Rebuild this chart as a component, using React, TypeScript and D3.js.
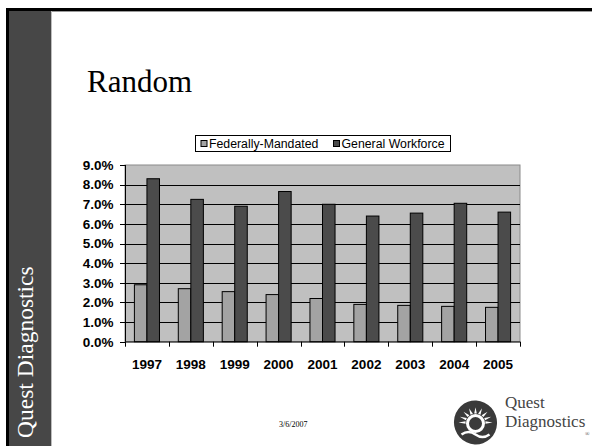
import React from "react";
import * as d3 from "d3";

const years = ["1997", "1998", "1999", "2000", "2001", "2002", "2003", "2004", "2005"];
const seriesNames = ["Federally-Mandated", "General Workforce"];
const federallyMandated = [2.9, 2.7, 2.55, 2.4, 2.2, 1.9, 1.85, 1.8, 1.75];
const generalWorkforce = [8.3, 7.25, 6.9, 7.65, 7.0, 6.4, 6.55, 7.05, 6.6];
const yTicks = [0, 1, 2, 3, 4, 5, 6, 7, 8, 9];
const seriesColors = ["#a3a3a3", "#4b4b4b"];

const W = 592;
const H = 446;
const plot = { left: 125, right: 520, top: 165, bottom: 341.7 };

export default function App() {
  const x0 = d3.scaleBand<string>().domain(years).range([plot.left, plot.right]).padding(0);
  const x1 = d3
    .scaleBand<string>()
    .domain(seriesNames)
    .range([0, x0.bandwidth()])
    .paddingInner(0)
    .paddingOuter(0.75);
  const y = d3.scaleLinear().domain([0, 9]).range([plot.bottom, plot.top]);
  const values = [federallyMandated, generalWorkforce];
  const arial = "Arial, 'Liberation Sans', Helvetica, sans-serif";
  const times = "'Times New Roman', 'Liberation Serif', serif";

  const boundaries = [...years.map((yr) => x0(yr) as number), plot.right];

  // logo sun rays
  const cx = 475.5, cy = 422.5;
  const rays = d3.range(9).map((i) => {
    const a = Math.PI + (i / 8) * Math.PI; // top half
    const r1 = 10, r2 = 17, da = 0.13;
    const p = [
      [cx + r1 * Math.cos(a - da), cy + r1 * Math.sin(a - da) * 0.9],
      [cx + r2 * Math.cos(a), cy + r2 * Math.sin(a) * 0.9],
      [cx + r1 * Math.cos(a + da), cy + r1 * Math.sin(a + da) * 0.9],
    ];
    return p.map((q) => q.join(",")).join(" ");
  });

  return (
    <svg
      width={W}
      height={H}
      style={{ position: "fixed", left: 0, top: 0, background: "#fff" }}
      xmlns="http://www.w3.org/2000/svg"
    >
      <rect x={0} y={0} width={W} height={H} fill="#fff" />
      {/* slide frame */}
      <rect x={9} y={11} width={42} height={H - 11} fill="#474747" />
      <rect x={51} y={11} width={1} height={H - 11} fill="#bdbdbd" />
      <rect x={6} y={8} width={W - 6} height={3} fill="#000" />
      <rect x={52} y={11} width={W - 52} height={1} fill="#9a9a9a" />
      <rect x={6} y={8} width={3} height={H - 8} fill="#000" />
      <text
        transform="translate(32.5,438) rotate(-90)"
        fontFamily={times}
        fontSize={23.5}
        fill="#ffffff"
      >
        Quest Diagnostics
      </text>

      {/* title */}
      <text x={87} y={92} fontFamily={times} fontSize={31} fill="#000">
        Random
      </text>

      {/* legend */}
      <rect x={195.5} y={135.5} width={255} height={16} fill="#fff" stroke="#000" strokeWidth={1} />
      {seriesNames.map((s, i) => {
        const lx = i === 0 ? 200.5 : 333;
        return (
          <g key={s}>
            <rect x={lx + 0.5} y={140.5} width={6} height={6} fill={seriesColors[i]} stroke="#000" strokeWidth={1} />
            <text x={lx + 8.5} y={148} fontFamily={arial} fontSize={12.3} fill="#000">
              {s}
            </text>
          </g>
        );
      })}

      {/* plot area */}
      <rect
        x={plot.left}
        y={plot.top}
        width={plot.right - plot.left}
        height={plot.bottom - plot.top}
        fill="#c0c0c0"
        stroke="#8a8a8a"
        strokeWidth={1}
      />
      {yTicks
        .filter((t) => t > 0 && t < 9)
        .map((t) => (
          <line
            key={t}
            x1={plot.left}
            x2={plot.right}
            y1={Math.round(y(t)) + 0.5}
            y2={Math.round(y(t)) + 0.5}
            stroke="#000"
            strokeWidth={1}
          />
        ))}

      {/* bars */}
      {years.map((yr, i) => (
        <g key={yr}>
          {seriesNames.map((s, j) => {
            const v = values[j][i];
            const bx = (x0(yr) as number) + (x1(s) as number);
            return (
              <rect
                key={s}
                x={bx}
                y={y(v)}
                width={x1.bandwidth()}
                height={plot.bottom - y(v)}
                fill={seriesColors[j]}
                stroke="#000"
                strokeWidth={1}
              />
            );
          })}
        </g>
      ))}

      {/* axes */}
      <line x1={plot.left + 0.5} x2={plot.left + 0.5} y1={plot.top} y2={plot.bottom} stroke="#000" />
      <line x1={plot.left} x2={plot.right} y1={plot.bottom + 0.3} y2={plot.bottom + 0.3} stroke="#000" />
      {yTicks.map((t) => (
        <g key={t}>
          <line x1={plot.left - 5} x2={plot.left} y1={Math.round(y(t)) + 0.5} y2={Math.round(y(t)) + 0.5} stroke="#000" />
          <text
            x={113.5}
            y={y(t) + 4.8}
            textAnchor="end"
            fontFamily={arial}
            fontWeight="bold"
            fontSize={13.5}
            fill="#000"
          >
            {t.toFixed(1) + "%"}
          </text>
        </g>
      ))}
      {boundaries.map((bx, i) => (
        <line key={i} x1={Math.round(bx) + 0.5} x2={Math.round(bx) + 0.5} y1={plot.bottom} y2={plot.bottom + 5} stroke="#000" />
      ))}
      {years.map((yr) => (
        <text
          key={yr}
          x={(x0(yr) as number) + x0.bandwidth() / 2}
          y={369}
          textAnchor="middle"
          fontFamily={arial}
          fontWeight="bold"
          fontSize={13.5}
          fill="#000"
        >
          {yr}
        </text>
      ))}

      {/* footer date */}
      <text x={279} y={426.5} fontFamily={times} fontSize={8} fill="#000">
        3/6/2007
      </text>

      {/* logo */}
      <g>
        <ellipse cx={cx} cy={cy} rx={21.5} ry={22} fill="#3a3a3a" transform={`rotate(-20 ${cx} ${cy})`} />
        {rays.map((p, i) => (
          <polygon key={i} points={p} fill="#fff" />
        ))}
        <circle cx={cx} cy={cy + 1} r={8} fill="none" stroke="#fff" strokeWidth={3} />
        <path
          d={`M ${cx - 14} ${cy + 12} q 7 -5 14 0 t 14 0`}
          fill="none"
          stroke="#fff"
          strokeWidth={2.5}
        />
        <text x={505} y={408} fontFamily={times} fontSize={17} fill="#444">
          Quest
        </text>
        <text x={505} y={427} fontFamily={times} fontSize={17} fill="#444">
          Diagnostics
        </text>
        <text x={585} y={436} fontFamily={times} fontSize={6} fill="#444">
          ®
        </text>
      </g>
    </svg>
  );
}
